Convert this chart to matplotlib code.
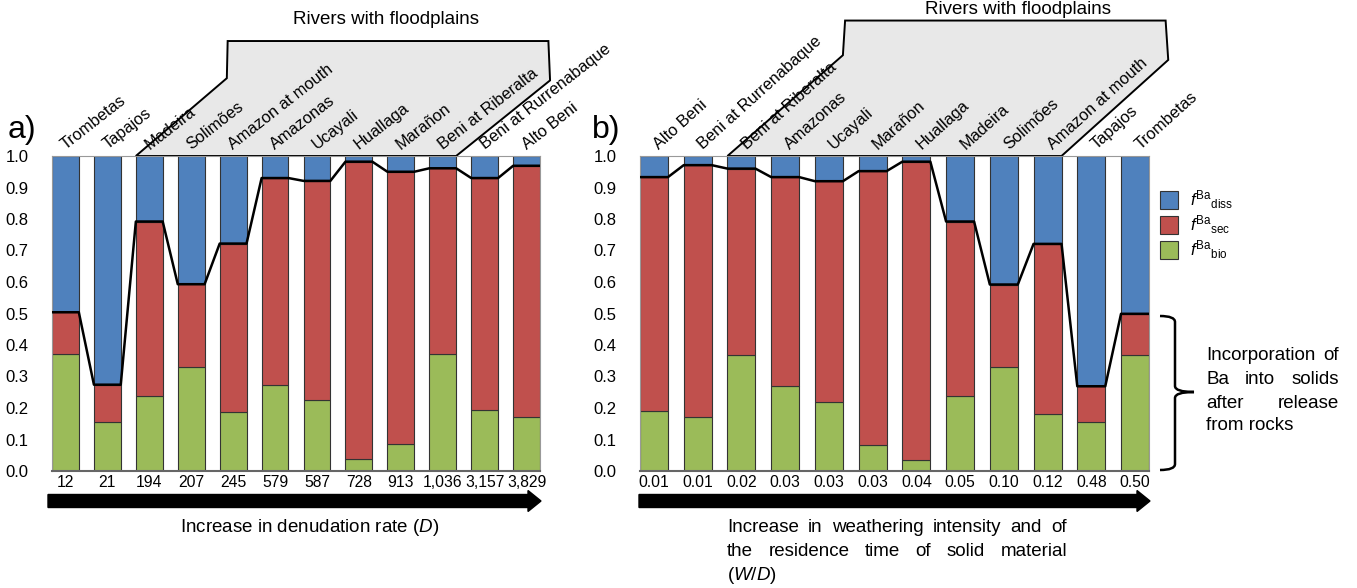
import matplotlib
matplotlib.use("Agg")
import matplotlib.pyplot as plt
import numpy as np
from matplotlib.patches import Polygon, FancyArrow, Rectangle, PathPatch
from matplotlib.path import Path

plt.rcParams['font.family'] = ['Liberation Sans', 'DejaVu Sans']
plt.rcParams['mathtext.fontset'] = 'custom'
plt.rcParams['mathtext.rm'] = 'Liberation Sans'
plt.rcParams['mathtext.it'] = 'Liberation Sans:italic'

# panel a: ordered by denudation rate
rivers_a = ['Trombetas', 'Tapajos', 'Madeira', 'Solimões', 'Amazon at mouth', 'Amazonas',
            'Ucayali', 'Huallaga', 'Marañon', 'Beni at Riberalta', 'Beni at Rurrenabaque', 'Alto Beni']
denudation = ['12', '21', '194', '207', '245', '579', '587', '728', '913', '1,036', '3,157', '3,829']
bio_a = [0.371, 0.155, 0.237, 0.331, 0.187, 0.274, 0.224, 0.039, 0.087, 0.371, 0.194, 0.173]
sec_a = [0.133, 0.119, 0.555, 0.262, 0.535, 0.656, 0.697, 0.943, 0.863, 0.590, 0.736, 0.796]
diss_a = [0.496, 0.726, 0.208, 0.407, 0.278, 0.070, 0.079, 0.018, 0.050, 0.039, 0.070, 0.031]

# panel b: ordered by weathering intensity
rivers_b = ['Alto Beni', 'Beni at Rurrenabaque', 'Beni at Riberalta', 'Amazonas', 'Ucayali', 'Marañon',
            'Huallaga', 'Madeira', 'Solimões', 'Amazon at mouth', 'Tapajos', 'Trombetas']
w_over_d = ['0.01', '0.01', '0.02', '0.03', '0.03', '0.03', '0.04', '0.05', '0.10', '0.12', '0.48', '0.50']
bio_b = [0.189, 0.173, 0.368, 0.269, 0.219, 0.084, 0.036, 0.237, 0.331, 0.181, 0.155, 0.368]
sec_b = [0.744, 0.798, 0.592, 0.664, 0.701, 0.868, 0.946, 0.555, 0.261, 0.540, 0.114, 0.131]
diss_b = [0.067, 0.029, 0.040, 0.067, 0.080, 0.048, 0.018, 0.208, 0.408, 0.279, 0.731, 0.501]

C_DISS = '#4F81BD'
C_SEC = '#C0504D'
C_BIO = '#9BBB59'
W = 1357
H = 588
BAR_W = 0.64

fig = plt.figure(figsize=(W / 100, H / 100), dpi=100)


def fx(px):
    return px / W


def fy(py):
    return 1 - py / H


def add_axes_px(left, top, right, bottom):
    return fig.add_axes([fx(left), fy(bottom), (right - left) / W, (bottom - top) / H])


def justify(words, x0, x1, y, size=13.5):
    # place words so that the line fills x0..x1 (pixels)
    renderer = fig.canvas.get_renderer()
    texts = [fig.text(0, fy(y), w, fontsize=size, va='center', ha='left') for w in words]
    widths = [t.get_window_extent(renderer).width for t in texts]
    gap = (x1 - x0 - sum(widths)) / max(len(words) - 1, 1)
    x = x0
    for t, w in zip(texts, widths):
        t.set_x(fx(x))
        x += w + gap


def draw_panel(ax, rivers, ticks, bio, sec, diss, box, angle, shift):
    x = np.arange(len(rivers))
    bio = np.array(bio)
    sec = np.array(sec)
    diss = np.array(diss)
    kw = dict(width=BAR_W, edgecolor='#333333', linewidth=0.8, zorder=2)
    ax.bar(x, bio, color=C_BIO, **kw)
    ax.bar(x, sec, bottom=bio, color=C_SEC, **kw)
    ax.bar(x, diss, bottom=bio + sec, color=C_DISS, **kw)

    # line along the top of the solid fraction
    top = bio + sec
    lx = np.ravel(np.column_stack([x - BAR_W / 2, x + BAR_W / 2]))
    ly = np.repeat(top, 2)
    ax.plot(lx, ly, color='black', lw=1.8, zorder=3)

    ax.set_xlim(-BAR_W / 2, len(rivers) - 1 + BAR_W / 2)
    ax.set_ylim(0, 1.0)
    ax.set_yticks(np.arange(0, 1.01, 0.1))
    ax.set_yticklabels([f'{v:.1f}' for v in np.arange(0, 1.01, 0.1)], fontsize=12)
    ax.set_xticks(x)
    ax.set_xticklabels(ticks, fontsize=11.3)
    ax.tick_params(axis='y', length=0, pad=17)
    ax.tick_params(axis='x', length=0, pad=3)
    for s in ['top', 'right', 'left']:
        ax.spines[s].set_color('#999999')
        ax.spines[s].set_linewidth(0.8)
    ax.spines['bottom'].set_color('#666666')
    ax.spines['bottom'].set_linewidth(1.5)

    for i, name in enumerate(rivers):
        ax.text(i + shift, 1.02, name, rotation=angle, rotation_mode='anchor',
                ha='left', va='baseline', fontsize=11.8, clip_on=False)

    poly = Polygon(box, closed=True, facecolor='#E8E8E8', edgecolor='black',
                   lw=1.4, clip_on=False, zorder=0)
    ax.add_patch(poly)


ax_a = add_axes_px(52, 156, 540, 471)
box_a = [(2 - BAR_W / 2, 1.0), (3.85, 1.247), (3.87, 1.365), (11.52, 1.365),
         (11.56, 1.24), (9 + BAR_W / 2, 1.0)]
draw_panel(ax_a, rivers_a, denudation, bio_a, sec_a, diss_a, box_a, 38, 0.0)

ax_b = add_axes_px(640, 156, 1149, 471)
box_b = [(2 - BAR_W / 2, 1.0), (4.32, 1.32), (4.37, 1.43), (11.7, 1.43),
         (11.76, 1.305), (9 + BAR_W / 2, 1.0)]
draw_panel(ax_b, rivers_b, w_over_d, bio_b, sec_b, diss_b, box_b, 42, 0.12)

fig.text(fx(386), fy(19), 'Rivers with floodplains', fontsize=13.5, ha='center', va='center')
fig.text(fx(1018), fy(9), 'Rivers with floodplains', fontsize=13.5, ha='center', va='center')
fig.text(fx(8), fy(130), 'a)', fontsize=23, ha='left', va='center')
fig.text(fx(592), fy(130), 'b)', fontsize=23, ha='left', va='center')

# direction arrows under the panels (inch coordinates)
for x0, x1 in [(48, 541), (639, 1150)]:
    arr = FancyArrow(x0 / 100, (H - 501) / 100, (x1 - x0) / 100, 0,
                     width=0.13, head_width=0.21, head_length=0.13,
                     length_includes_head=True, color='black',
                     transform=fig.dpi_scale_trans)
    fig.patches.append(arr)

fig.text(fx(310), fy(528), r'Increase in denudation rate ($\mathit{D}$)', fontsize=13.5,
         ha='center', va='center')
justify(['Increase', 'in', 'weathering', 'intensity', 'and', 'of'], 727, 1067, 528)
justify(['the', 'residence', 'time', 'of', 'solid', 'material'], 727, 1067, 552)
fig.text(fx(727), fy(575), r'($\mathit{W/D}$)', fontsize=13.5, ha='left', va='center')

# legend
legend_items = [(C_DISS, r'$\mathit{f}^{\mathrm{Ba}}{}_{\mathrm{diss}}$'),
                (C_SEC, r'$\mathit{f}^{\mathrm{Ba}}{}_{\mathrm{sec}}$'),
                (C_BIO, r'$\mathit{f}^{\mathrm{Ba}}{}_{\mathrm{bio}}$')]
for k, (col, lab) in enumerate(legend_items):
    yc = 200 + 25 * k
    fig.patches.append(Rectangle((fx(1160), fy(yc + 9)), 18 / W, 18 / H, facecolor=col,
                                 edgecolor='#333333', lw=0.8, transform=fig.transFigure))
    fig.text(fx(1190), fy(yc), lab, fontsize=12, ha='left', va='center')

# curly brace next to panel b
pts = [(1160, 316), (1175, 316), (1175, 322), (1175, 386), (1175, 392), (1194, 392),
       (1175, 392), (1175, 398), (1175, 464), (1175, 470), (1160, 470)]
codes = [Path.MOVETO, Path.CURVE3, Path.CURVE3, Path.LINETO, Path.CURVE3, Path.CURVE3,
         Path.CURVE3, Path.CURVE3, Path.LINETO, Path.CURVE3, Path.CURVE3]
verts = [(px / 100, (H - py) / 100) for px, py in pts]
brace = PathPatch(Path(verts, codes), facecolor='none', edgecolor='black', lw=1.8,
                  transform=fig.dpi_scale_trans)
fig.patches.append(brace)

justify(['Incorporation', 'of'], 1206, 1339, 356)
justify(['Ba', 'into', 'solids'], 1206, 1339, 380)
justify(['after', 'release'], 1206, 1339, 403)
fig.text(fx(1206), fy(426), 'from rocks', fontsize=13.5, ha='left', va='center')

fig.savefig('out.png', dpi=100)
